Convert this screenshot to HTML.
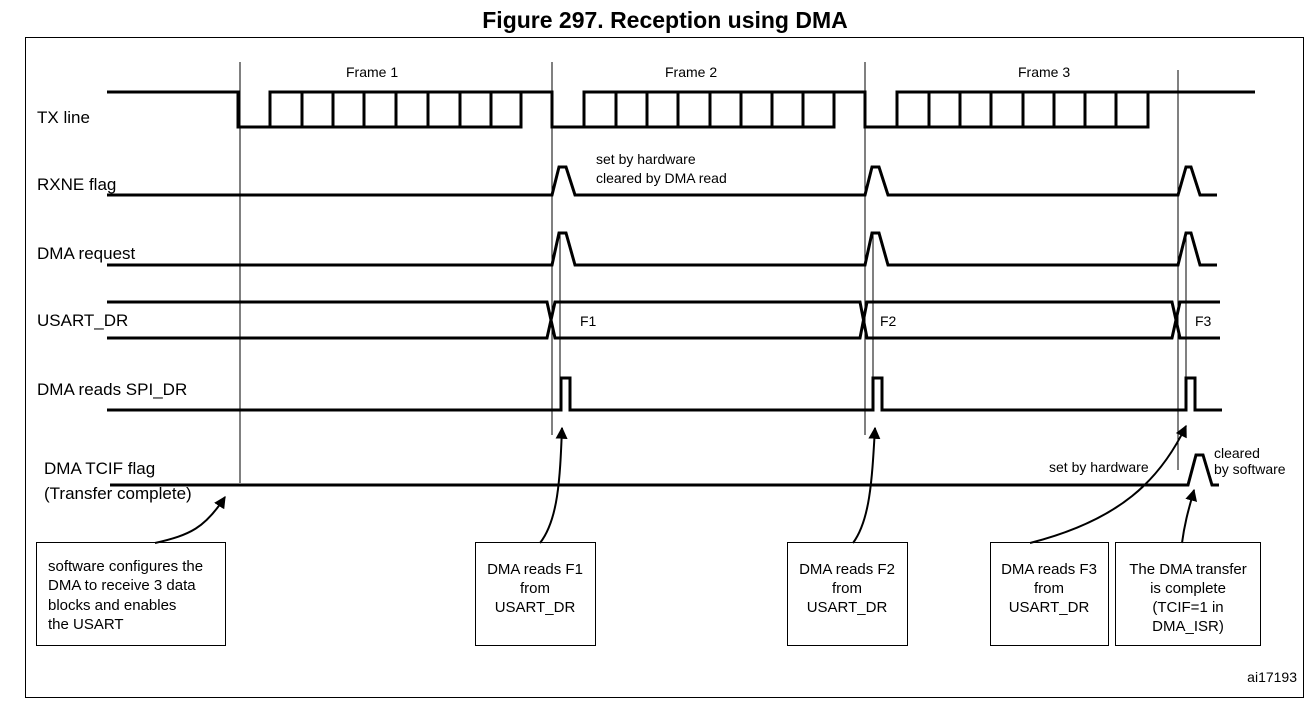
<!DOCTYPE html>
<html><head><meta charset="utf-8"><style>
html,body{margin:0;padding:0;background:#fff;}
svg{display:block;}
text{font-family:"Liberation Sans",Arial,sans-serif;fill:#000;}
</style></head><body>
<svg width="1316" height="710" viewBox="0 0 1316 710" xmlns="http://www.w3.org/2000/svg">
<defs><marker id="ah" viewBox="0 0 10 10" refX="9" refY="5" markerWidth="6" markerHeight="6" orient="auto"><path d="M0,0 L10,5 L0,10 z" fill="#000"/></marker></defs>
<text x="665" y="28" font-size="23" font-weight="bold" text-anchor="middle">Figure 297. Reception using DMA</text>
<rect x="25.5" y="37.5" width="1278" height="660" fill="none" stroke="#000" stroke-width="1"/>
<g stroke="#000" stroke-width="1" fill="none">
<line x1="240" y1="62" x2="240" y2="483"/>
<line x1="552" y1="62" x2="552" y2="435"/>
<line x1="865" y1="62" x2="865" y2="435"/>
<line x1="1178" y1="70" x2="1178" y2="470"/>
<line x1="560" y1="233" x2="560" y2="410"/>
<line x1="873" y1="233" x2="873" y2="410"/>
<line x1="1186" y1="233" x2="1186" y2="410"/>
</g>
<g font-size="14">
<text x="346" y="77">Frame 1</text><text x="665" y="77">Frame 2</text><text x="1018" y="77">Frame 3</text>
</g>
<g font-size="17">
<text x="37" y="123">TX line</text>
<text x="37" y="190">RXNE flag</text>
<text x="37" y="259">DMA request</text>
<text x="37" y="326">USART_DR</text>
<text x="37" y="395">DMA reads SPI_DR</text>
<text x="44" y="474">DMA TCIF flag</text>
<text x="44" y="499">(Transfer complete)</text>
</g>
<g stroke="#000" stroke-width="3" fill="none" stroke-linejoin="miter">
<path d="M107,92 H238 V127 H521 V92 M270,127 V92 H552 V127 H834 V92 M584,127 V92 H865 V127 H1148 V92 M897,127 V92 H1255"/>
<path d="M302,92V127 M333,92V127 M364,92V127 M396,92V127 M428,92V127 M460,92V127 M491,92V127"/>
<path d="M616,92V127 M647,92V127 M678,92V127 M710,92V127 M741,92V127 M772,92V127 M803,92V127"/>
<path d="M929,92V127 M960,92V127 M991,92V127 M1023,92V127 M1054,92V127 M1085,92V127 M1116,92V127"/>
<path d="M107,195 H552 L559,167 H566 L575,195 H865 L872,167 H879 L888,195 H1178 L1186,167 H1191 L1200,195 H1217"/>
<path d="M107,265 H552 L559,233 H566 L575,265 H865 L872,233 H879 L888,265 H1178 L1186,233 H1191 L1200,265 H1217"/>
<path d="M107,302 H547 L555,338 H860 L867,302 H1172 L1180,338 H1220"/>
<path d="M107,338 H547 L555,302 H860 L867,338 H1172 L1180,302 H1220"/>
<path d="M107,410 H561 V378 H570 V410 H873 V378 H882 V410 H1186 V378 H1195 V410 H1222"/>
<path d="M110,485 H1188 L1196,455 H1203 L1212,485 H1219"/>
</g>
<g font-size="14">
<text x="580" y="326">F1</text><text x="880" y="326">F2</text><text x="1195" y="326">F3</text>
<text x="596" y="164">set by hardware</text>
<text x="596" y="183">cleared by DMA read</text>
<text x="1049" y="472">set by hardware</text>
<text x="1214" y="458">cleared</text>
<text x="1214" y="474">by software</text>
<text x="1297" y="682" text-anchor="end">ai17193</text>
</g>
<g stroke="#000" stroke-width="1" fill="#fff">
<rect x="36.5" y="542.5" width="189" height="103"/>
<rect x="475.5" y="542.5" width="120" height="103"/>
<rect x="787.5" y="542.5" width="120" height="103"/>
<rect x="990.5" y="542.5" width="118" height="103"/>
<rect x="1115.5" y="542.5" width="145" height="103"/>
</g>
<g font-size="15">
<text x="48" y="571">software configures the</text>
<text x="48" y="590">DMA to receive 3 data</text>
<text x="48" y="610">blocks and enables</text>
<text x="48" y="629">the USART</text>
<g text-anchor="middle">
<text x="535" y="574">DMA reads F1</text><text x="535" y="593">from</text><text x="535" y="612">USART_DR</text>
<text x="847" y="574">DMA reads F2</text><text x="847" y="593">from</text><text x="847" y="612">USART_DR</text>
<text x="1049" y="574">DMA reads F3</text><text x="1049" y="593">from</text><text x="1049" y="612">USART_DR</text>
<text x="1188" y="574">The DMA transfer</text><text x="1188" y="593">is complete</text><text x="1188" y="612">(TCIF=1 in</text><text x="1188" y="631">DMA_ISR)</text>
</g>
</g>
<g stroke="#000" stroke-width="2" fill="none" marker-end="url(#ah)">
<path d="M155,543 C190,535 205,528 225,497"/>
<path d="M540,543 C558,520 560,480 562,428"/>
<path d="M853,543 C870,520 872,480 875,428"/>
<path d="M1030,543 C1120,520 1160,480 1186,426"/>
<path d="M1182,543 C1185,520 1190,505 1194,490"/>
</g>
</svg>
</body></html>
